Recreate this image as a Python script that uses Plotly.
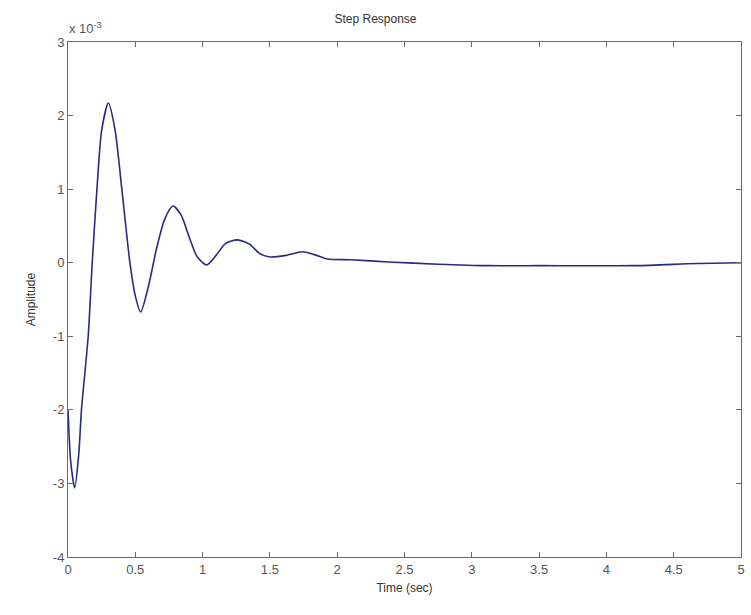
import plotly.graph_objects as go

# Step response samples (time in seconds, amplitude in units of 1e-3)
time_sec = [0, 0.02, 0.05, 0.08, 0.10, 0.15, 0.18, 0.215, 0.25, 0.30, 0.35, 0.40,
            0.46, 0.50, 0.54, 0.60, 0.66, 0.72, 0.78, 0.84, 0.90, 0.96, 1.03,
            1.10, 1.17, 1.26, 1.35, 1.42, 1.49, 1.62, 1.74, 1.83, 1.93, 2.1,
            2.38, 2.75, 3.12, 3.5, 4.22, 4.67, 5.0]
amplitude = [-2.0, -2.7, -3.06, -2.6, -2.0, -1.0, 0.0, 1.0, 1.8, 2.17, 1.8, 1.0,
             0.0, -0.45, -0.67, -0.3, 0.21, 0.6, 0.77, 0.65, 0.35, 0.08, -0.03,
             0.1, 0.26, 0.31, 0.25, 0.13, 0.08, 0.1, 0.15, 0.11, 0.05, 0.04,
             0.01, -0.02, -0.04, -0.04, -0.04, -0.01, 0.0]

x_ticks = [0, 0.5, 1, 1.5, 2, 2.5, 3, 3.5, 4, 4.5, 5]
y_ticks = [-4, -3, -2, -1, 0, 1, 2, 3]

font_family = "Liberation Sans, Arial, sans-serif"
text_color = "#555555"
axis_color = "#6a6a6a"

fig = go.Figure()
fig.add_trace(go.Scatter(
    x=time_sec, y=amplitude, mode="lines",
    line=dict(color="#2a2a82", width=1.6, shape="spline", smoothing=0.7),
    showlegend=False, hoverinfo="x+y",
))

axis_common = dict(
    showgrid=False, zeroline=False, showline=True, linecolor=axis_color,
    linewidth=1, mirror="allticks", ticks="inside", ticklen=5,
    tickcolor=axis_color, tickfont=dict(family=font_family, size=13, color=text_color),
)

fig.update_layout(
    width=751, height=615,
    margin=dict(l=68, r=6, t=42, b=58),
    paper_bgcolor="white", plot_bgcolor="white",
    font=dict(family=font_family, color=text_color),
    title=dict(text="Step Response", x=0.5, xanchor="center", y=0.97, yanchor="middle",
               font=dict(family=font_family, size=12, color="#333333")),
    xaxis=dict(range=[0, 5], tickvals=x_ticks, ticktext=[f"{v:g}" for v in x_ticks],
               title=dict(text="Time (sec)", standoff=8,
                          font=dict(family=font_family, size=12, color="#333333")),
               **axis_common),
    yaxis=dict(range=[-4, 3], tickvals=y_ticks, ticktext=[str(v) for v in y_ticks],
               title=dict(text="Amplitude", standoff=14,
                          font=dict(family=font_family, size=12, color="#333333")),
               **axis_common),
    annotations=[dict(
        text="x 10<sup>-3</sup>", xref="paper", yref="paper", x=0, y=1,
        xanchor="left", yanchor="bottom", yshift=4, xshift=-1, showarrow=False,
        font=dict(family=font_family, size=13, color=text_color),
    )],
)

fig.write_html("out.html")
